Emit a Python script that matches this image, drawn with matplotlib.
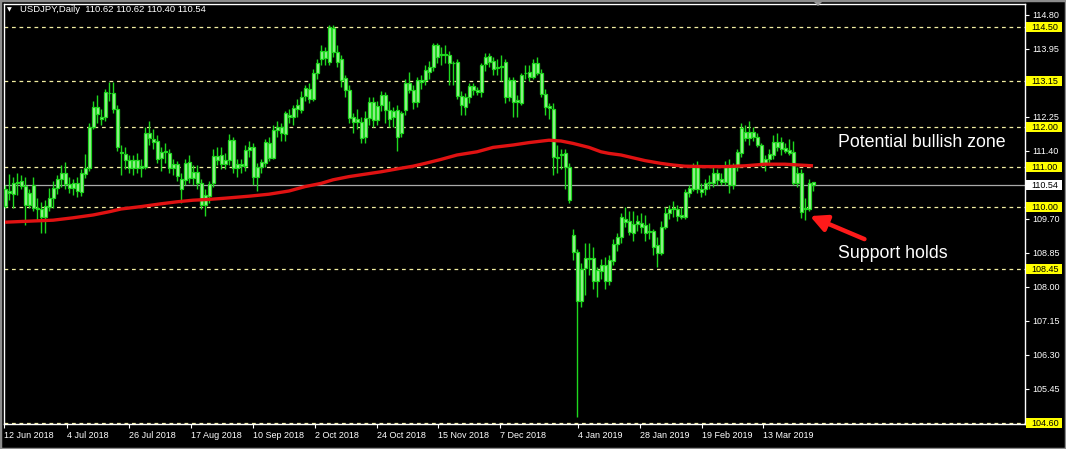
"""USDJPY daily candles with MA and key levels, MetaTrader style."""

import matplotlib

matplotlib.use("Agg")

import matplotlib.pyplot as plt
import matplotlib.transforms as mtransforms
from matplotlib.patches import Rectangle, Polygon
import numpy as np

plt.rcParams["font.family"] = ["Liberation Sans", "DejaVu Sans"]

SYMBOL_TITLE = "USDJPY,Daily  110.62 110.62 110.40 110.54"

opens = [
    110.02, 110.40, 110.32, 110.60, 110.66, 110.53, 110.04, 110.55, 109.97, 109.94,
    109.76, 110.00, 110.23, 110.48, 110.69, 110.86, 110.58, 110.47, 110.61, 110.38,
    110.82, 110.98, 112.01, 112.51, 112.26, 112.26, 112.86, 112.84, 112.44, 111.38,
    111.33, 111.18, 110.97, 111.18, 110.97, 111.01, 111.84, 111.70, 111.65, 111.22,
    111.38, 111.34, 110.98, 111.07, 110.70, 110.68, 111.13, 110.72, 110.88, 110.61,
    110.05, 110.28, 110.59, 111.28, 111.30, 111.07, 111.18, 111.68, 110.97, 111.07,
    111.03, 111.43, 111.51, 110.74, 111.01, 111.09, 111.59, 111.23, 111.93, 112.01,
    111.82, 112.31, 112.26, 112.44, 112.43, 112.78, 112.94, 112.70, 113.34, 113.70,
    113.90, 113.63, 114.48, 113.87, 113.69, 113.22, 112.93, 112.26, 112.13, 112.12,
    111.76, 112.22, 112.63, 112.18, 112.55, 112.80, 112.43, 112.26, 112.43, 111.86,
    112.43, 113.09, 112.93, 112.62, 113.18, 113.18, 113.38, 113.49, 114.05, 113.80,
    113.82, 113.80, 113.59, 113.62, 112.78, 112.51, 112.76, 113.03, 112.92, 112.88,
    113.57, 113.78, 113.66, 113.47, 113.50, 113.62, 112.76, 113.17, 112.67, 112.59,
    113.34, 113.26, 113.26, 113.61, 113.34, 112.82, 112.53, 112.45, 111.26, 111.33,
    111.35, 111.01, 109.30, 108.88, 107.66, 108.47, 108.72, 108.72, 108.16, 108.41,
    108.55, 108.16, 108.66, 109.08, 109.24, 109.69, 109.65, 109.34, 109.58, 109.61,
    109.55, 109.37, 109.40, 109.05, 108.86, 109.51, 109.86, 109.94, 109.95, 109.80,
    109.76, 110.34, 110.45, 110.99, 110.45, 110.44, 110.59, 110.61, 110.84, 110.69,
    110.63, 111.03, 110.55, 110.99, 111.36, 111.87, 111.72, 111.87, 111.76, 111.55,
    111.11, 111.19, 111.30, 111.63, 111.63, 111.47, 111.43, 111.38, 110.61, 110.86,
    109.94, 109.94, 110.62,
]
highs = [
    110.55, 110.83, 110.76, 110.85, 110.80, 110.76, 110.45, 110.75, 110.22, 110.13,
    110.17, 110.47, 110.64, 110.80, 111.06, 111.12, 110.75, 110.70, 110.75, 110.95,
    111.32, 112.10, 112.65, 112.80, 112.45, 112.95, 113.13, 113.13, 112.55, 111.55,
    111.50, 111.30, 111.30, 111.35, 111.20, 112.00, 112.15, 111.95, 111.80, 111.50,
    111.60, 111.45, 111.20, 111.15, 110.85, 111.20, 111.30, 111.05, 111.05, 110.70,
    110.45, 110.65, 111.45, 111.50, 111.50, 111.35, 111.83, 111.75, 111.20, 111.20,
    111.55, 111.65, 111.60, 111.10, 111.20, 111.70, 111.75, 112.05, 112.15, 112.10,
    112.40, 112.45, 112.55, 112.70, 112.90, 113.05, 113.10, 113.45, 113.70, 114.05,
    114.00, 114.55, 114.55, 114.05, 113.80, 113.30, 113.05, 112.35, 112.45, 112.25,
    112.40, 112.75, 112.75, 112.65, 112.90, 112.88, 112.65, 112.50, 112.55, 112.40,
    113.20, 113.38, 113.05, 113.25, 113.30, 113.55, 113.65, 114.10, 114.10, 114.00,
    114.05, 113.90, 113.65, 113.70, 112.90, 112.85, 113.10, 113.10, 113.00, 113.60,
    113.85, 113.85, 113.75, 113.70, 113.80, 113.70, 113.25, 113.25, 112.80, 113.35,
    113.55, 113.55, 113.70, 113.75, 113.45, 112.95, 112.60, 112.60, 111.55, 111.45,
    111.45, 111.10, 109.45, 108.95, 108.60, 109.10, 109.10, 109.00, 108.50, 108.70,
    108.75, 108.80, 109.20, 109.35, 109.85, 110.00, 109.90, 109.90, 109.80, 109.85,
    109.80, 109.60, 109.45, 109.25, 109.65, 110.00, 110.05, 110.15, 110.05, 110.00,
    110.45, 110.55, 111.10, 111.15, 110.60, 110.70, 110.80, 111.00, 110.95, 110.85,
    111.15, 111.20, 111.10, 111.45, 112.10, 112.05, 112.15, 112.00, 111.85, 111.60,
    111.30, 111.45, 111.80, 111.85, 111.75, 111.60, 111.70, 111.65, 111.00, 110.95,
    110.22, 110.70, 110.62,
]
lows = [
    109.97, 110.18, 109.97, 110.30, 110.45, 109.55, 109.97, 109.90, 109.68, 109.34,
    109.34, 109.90, 109.97, 110.32, 110.50, 110.45, 110.35, 110.30, 110.25, 110.28,
    110.72, 110.90, 111.95, 112.10, 112.05, 112.15, 112.65, 112.35, 111.40, 110.80,
    110.95, 110.85, 110.80, 110.85, 110.75, 110.95, 111.55, 111.45, 111.10, 110.90,
    111.10, 110.85, 110.80, 110.65, 110.10, 110.55, 110.60, 110.55, 110.45, 109.95,
    109.78, 110.10, 110.50, 111.05, 110.95, 110.95, 111.05, 110.85, 110.75, 110.85,
    110.90, 111.25, 110.55, 110.40, 110.85, 111.00, 111.15, 111.20, 111.75, 111.65,
    111.65, 112.10, 112.05, 112.25, 112.35, 112.65, 112.60, 112.65, 113.20, 113.55,
    113.55, 113.55, 113.75, 113.50, 113.00, 112.75, 112.10, 111.85, 111.95, 111.60,
    111.60, 112.05, 112.00, 112.05, 112.40, 112.10, 112.00, 112.00, 111.40, 111.75,
    112.30, 112.85, 112.45, 112.50, 112.95, 113.05, 113.20, 113.40, 113.60, 113.55,
    113.60, 113.05, 113.05, 112.70, 112.30, 112.30, 112.60, 112.80, 112.80, 112.75,
    113.40, 113.50, 113.30, 113.30, 113.15, 112.60, 112.65, 112.25, 112.25, 112.55,
    113.20, 113.15, 113.20, 113.30, 112.75, 112.30, 112.20, 110.80, 110.85, 110.95,
    110.45, 110.10, 108.68, 104.75, 107.50, 107.80, 108.30, 107.95, 107.75, 108.20,
    107.95, 108.05, 108.55, 108.90, 109.10, 109.50, 109.30, 109.15, 109.40, 109.35,
    109.15, 109.20, 108.80, 108.50, 108.80, 109.45, 109.70, 109.75, 109.65, 109.70,
    109.70, 110.25, 110.40, 110.35, 110.25, 110.30, 110.45, 110.50, 110.55, 110.55,
    110.55, 110.35, 110.45, 110.90, 111.25, 111.65, 111.55, 111.65, 111.50, 111.00,
    110.90, 111.05, 111.20, 111.40, 111.30, 111.35, 111.30, 110.55, 110.50, 109.72,
    109.68, 109.90, 110.40,
]
closes = [
    110.46, 110.34, 110.61, 110.62, 110.53, 110.04, 110.34, 109.97, 109.96, 109.76,
    110.03, 110.23, 110.47, 110.69, 110.86, 110.58, 110.47, 110.61, 110.41, 110.84,
    110.97, 112.01, 112.51, 112.32, 112.19, 112.88, 112.84, 112.44, 111.49, 111.34,
    111.18, 110.97, 111.18, 110.97, 111.03, 111.84, 111.72, 111.62, 111.19, 111.38,
    111.38, 110.98, 111.07, 110.78, 110.45, 111.11, 110.72, 110.88, 110.59, 110.05,
    110.30, 110.57, 111.28, 111.18, 111.07, 111.18, 111.68, 110.97, 111.07, 111.03,
    111.43, 111.51, 110.74, 111.01, 111.12, 111.62, 111.23, 111.93, 112.01, 111.85,
    112.34, 112.26, 112.47, 112.55, 112.76, 112.97, 112.70, 113.34, 113.59, 113.90,
    113.72, 114.51, 113.88, 113.63, 113.17, 112.93, 112.23, 112.13, 112.20, 111.73,
    112.22, 112.63, 112.18, 112.52, 112.80, 112.43, 112.20, 112.40, 111.76, 112.34,
    113.09, 112.93, 112.63, 113.18, 113.13, 113.43, 113.51, 114.05, 113.76, 113.82,
    113.80, 113.59, 113.60, 112.78, 112.55, 112.76, 113.03, 112.92, 112.88, 113.55,
    113.74, 113.63, 113.44, 113.47, 113.50, 112.76, 113.17, 112.63, 112.63, 113.30,
    113.34, 113.38, 113.59, 113.36, 112.82, 112.49, 112.47, 111.26, 111.22, 111.30,
    110.99, 110.18, 108.88, 107.66, 108.45, 108.72, 108.70, 108.16, 108.43, 108.55,
    108.16, 108.68, 109.08, 109.24, 109.74, 109.63, 109.38, 109.58, 109.65, 109.49,
    109.34, 109.37, 109.01, 108.86, 109.51, 109.86, 109.95, 109.98, 109.78, 109.76,
    110.38, 110.47, 110.99, 110.45, 110.38, 110.59, 110.63, 110.84, 110.68, 110.63,
    111.03, 110.55, 110.99, 111.38, 111.97, 111.72, 111.87, 111.76, 111.55, 111.11,
    111.19, 111.33, 111.63, 111.49, 111.44, 111.41, 111.36, 110.61, 110.86, 109.88,
    109.97, 110.59, 110.54,
]

# moving average (bar index, price)
ma_bars = [0, 7, 12, 17, 22, 26, 29, 34, 39, 43, 47, 51, 55, 61, 66, 71, 75, 79,
           82, 86, 90, 94, 99, 102, 105, 109, 113, 118, 122, 127, 131, 136, 139,
           142, 146, 149, 151, 154, 157, 160, 164, 167, 170, 175, 180, 185, 190,
           195, 202]
ma_values = [109.62, 109.65, 109.67, 109.73, 109.80, 109.88, 109.95, 110.01,
             110.08, 110.13, 110.17, 110.19, 110.22, 110.27, 110.32, 110.40,
             110.51, 110.59, 110.68, 110.76, 110.82, 110.88, 110.97, 111.02,
             111.09, 111.19, 111.30, 111.38, 111.49, 111.55, 111.61, 111.67,
             111.65, 111.59, 111.49, 111.38, 111.34, 111.30, 111.23, 111.16,
             111.09, 111.05, 111.02, 111.01, 111.01, 111.03, 111.07, 111.07,
             111.03]

level_lines = [114.50, 113.15, 112.00, 111.00, 110.00, 108.45, 104.60]
current_price = 110.54
price_ticks = [114.80, 113.95, 113.10, 112.25, 111.40, 110.55, 109.70, 108.85,
               108.00, 107.15, 106.30, 105.45, 104.60]
# ticks whose labels sit under a level box on the price scale
hidden_ticks = [113.10, 110.55, 104.60]
date_labels = ["12 Jun 2018", "4 Jul 2018", "26 Jul 2018", "17 Aug 2018",
               "10 Sep 2018", "2 Oct 2018", "24 Oct 2018", "15 Nov 2018",
               "7 Dec 2018", "4 Jan 2019", "28 Jan 2019", "19 Feb 2019",
               "13 Mar 2019"]
date_tick_bars = [-0.25, 15.4, 31.1, 46.5, 62.1, 77.5, 92.9, 108.3, 123.75,
                  143.3, 158.75, 174.2, 189.4]

W, H = 1066, 449
fig = plt.figure(figsize=(W / 100, H / 100), dpi=100, facecolor="black")
ax = fig.add_axes([4 / W, 25 / H, 1021 / W, 420 / H], facecolor="black")

bars = np.arange(len(closes))
o = np.array(opens)
c = np.array(closes)
body_low = np.minimum(o, c)
body_h = np.maximum(np.abs(c - o), 0.02)

candle_edge = "#1ed81e"
ax.vlines(bars, lows, highs, color=candle_edge, linewidth=1.0, zorder=3)
ax.bar(bars, body_h, bottom=body_low, width=0.75, color="#9ef098",
       edgecolor=candle_edge, linewidth=0.9, zorder=4)

ax.plot(ma_bars, ma_values, color="#e01212", linewidth=2.4, zorder=5,
        solid_capstyle="butt")

for lvl in level_lines:
    ax.axhline(lvl, color="#f2eea0", linewidth=0.9, linestyle=(0, (3, 3)),
               zorder=2)
ax.axhline(current_price, color="#a9a9a9", linewidth=0.9, zorder=2)

ax.set_xlim(-0.25, 255)
ax.set_ylim(104.575, 115.075)

for side in ["left", "right", "top", "bottom"]:
    ax.spines[side].set_color("white")
    ax.spines[side].set_linewidth(1.0)

ax.yaxis.tick_right()
ax.set_yticks(price_ticks)
ax.set_yticklabels(["" if p in hidden_ticks else f"{p:.2f}" for p in price_ticks])
ax.tick_params(axis="y", colors="white", labelsize=6.5, length=3, pad=2)

ax.set_xticks(date_tick_bars)
ax.set_xticklabels(date_labels)
ax.tick_params(axis="x", colors="white", labelsize=6.5, length=3, pad=2)
for lab in ax.get_xticklabels():
    lab.set_ha("left")

# level boxes on the price scale
trans = mtransforms.blended_transform_factory(ax.transAxes, ax.transData)
box_h = 0.25
for lvl in level_lines:
    ax.add_patch(Rectangle((1.001, lvl - box_h / 2), 0.0355, box_h,
                           transform=trans, facecolor="#ffff00",
                           edgecolor="none", clip_on=False, zorder=6))
    ax.text(1.0059, lvl, f"{lvl:.2f}", transform=trans, color="black",
            fontsize=6.5, va="center", ha="left", zorder=7, clip_on=False)
ax.add_patch(Rectangle((1.001, current_price - box_h / 2), 0.0355, box_h,
                       transform=trans, facecolor="white", edgecolor="none",
                       clip_on=False, zorder=6))
ax.text(1.0059, current_price, f"{current_price:.2f}", transform=trans,
        color="black", fontsize=6.5, va="center", ha="left", zorder=7,
        clip_on=False)

# header
fig.text(7 / W, 1 - 10 / H, "\u25bc", color="white", fontsize=4.5,
         va="center", ha="left", family=["DejaVu Sans"])
fig.text(20 / W, 1 - 10 / H, SYMBOL_TITLE, color="white", fontsize=6.8,
         va="center", ha="left")

# annotations
ax.text(0.817, 111.62, "Potential bullish zone", transform=trans,
        color="white", fontsize=12.8, va="center", ha="left")
ax.text(0.817, 108.85, "Support holds", transform=trans, color="white",
        fontsize=12.8, va="center", ha="left")
ax.annotate("", xy=(200.6, 109.80), xytext=(215.5, 109.17),
            arrowprops=dict(arrowstyle="-|>,head_length=1.0,head_width=0.5",
                            color="#ff1a1a", linewidth=3.2))

# chart shift marker and window frame
fig.patches.append(Polygon([[812 / W, 1.0], [824 / W, 1.0], [818 / W, 1 - 6 / H]],
                           closed=True, transform=fig.transFigure,
                           facecolor="#9a9a9a", edgecolor="none"))
fig.patches.append(Rectangle((0, 0), 1, 1, transform=fig.transFigure,
                             facecolor="none", edgecolor="#8c8c8c",
                             linewidth=2.5))

fig.savefig("out.png", dpi=100, facecolor="black")
